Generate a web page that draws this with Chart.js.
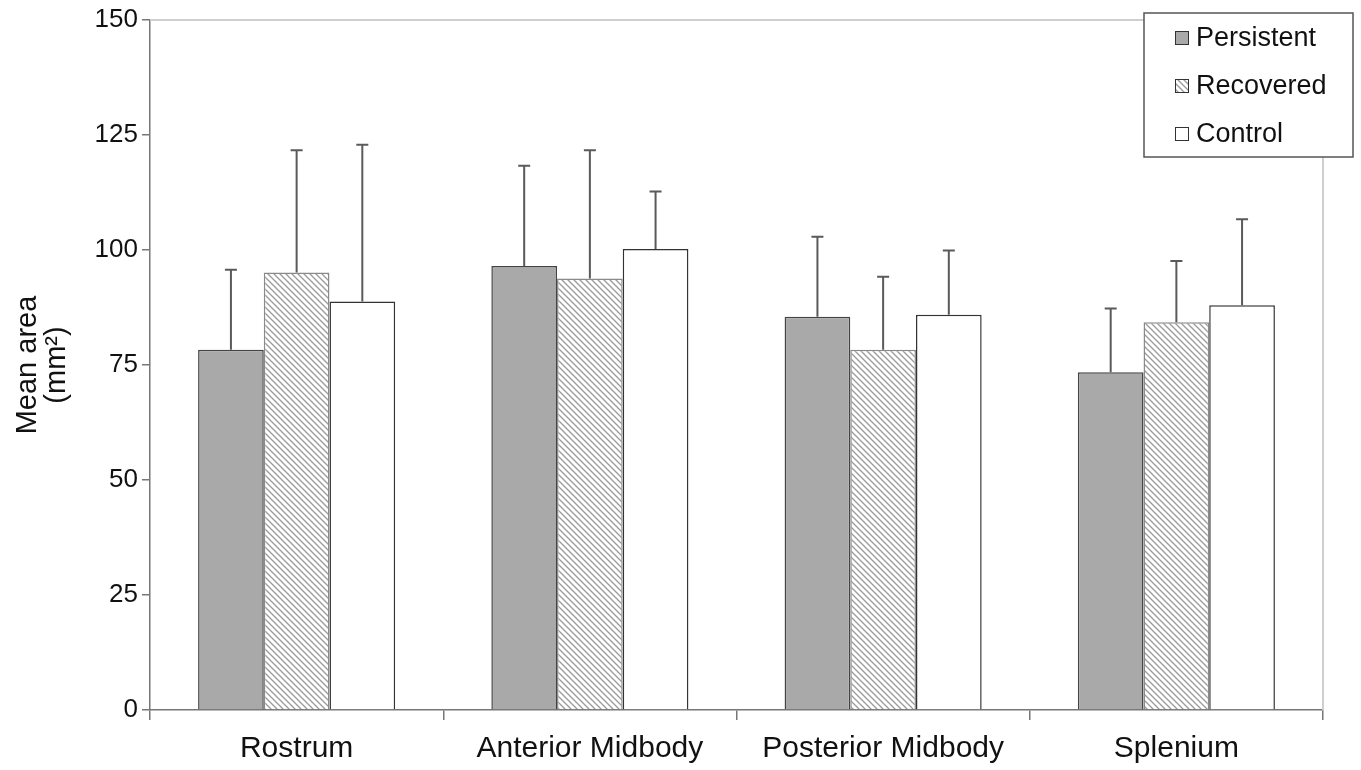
<!DOCTYPE html>
<html>
<head>
<meta charset="utf-8">
<script src="https://cdn.jsdelivr.net/npm/chart.js@4.4.1/dist/chart.umd.min.js"></script>
<style>
  html, body { margin: 0; padding: 0; background: #fff; }
  #wrap { width: 1361px; height: 770px; position: relative; }
</style>
</head>
<body>
<div id="wrap"><canvas id="chart"></canvas></div>
<script>
const regions = ['Rostrum', 'Anterior Midbody', 'Posterior Midbody', 'Splenium'];
const seriesNames = ['Persistent', 'Recovered', 'Control'];
const persistentMean = [78.3, 96.5, 85.5, 73.4];
const recoveredMean = [95.1, 93.8, 78.3, 84.3];
const controlMean = [88.8, 100.2, 85.9, 88.0];
const persistentSD = [17.4, 21.8, 17.4, 13.9];
const recoveredSD = [26.6, 27.9, 15.9, 13.3];
const controlSD = [34.1, 12.5, 14.0, 18.7];
const yTicks = [0, 25, 50, 75, 100, 125, 150];

const FONT = '"Liberation Sans", Arial, sans-serif';

function hatch() {
  const c = document.createElement('canvas');
  c.width = 6; c.height = 6;
  const g = c.getContext('2d');
  g.fillStyle = '#fff';
  g.fillRect(0, 0, 6, 6);
  g.strokeStyle = '#9a9a9a';
  g.lineWidth = 1.3;
  g.beginPath();
  g.moveTo(-1, -1); g.lineTo(7, 7);
  g.moveTo(-4, 2); g.lineTo(4, 10);
  g.moveTo(2, -4); g.lineTo(10, 4);
  g.stroke();
  return g.createPattern(c, 'repeat');
}
const hatchFill = hatch();

const fills = ['#a9a9a9', hatchFill, '#ffffff'];
const borders = ['#444', '#8a8a8a', '#333'];

// error bars (upper only), plot border, legend box
const extras = {
  id: 'extras',
  beforeDatasetsDraw(chart) {
    const { ctx, chartArea: a } = chart;
    ctx.save();
    ctx.strokeStyle = '#cfcfcf';
    ctx.lineWidth = 2;
    ctx.beginPath();
    ctx.moveTo(a.left, a.top);
    ctx.lineTo(a.right, a.top);
    ctx.lineTo(a.right, a.bottom);
    ctx.stroke();
    ctx.restore();
  },
  afterDatasetsDraw(chart) {
    const { ctx } = chart;
    const y = chart.scales.y;
    ctx.save();
    ctx.strokeStyle = '#5a5a5a';
    ctx.lineWidth = 2;
    chart.data.datasets.forEach((ds, i) => {
      const meta = chart.getDatasetMeta(i);
      meta.data.forEach((bar, j) => {
        const top = y.getPixelForValue(ds.data[j] + ds.sd[j]);
        ctx.beginPath();
        ctx.moveTo(bar.x, bar.y);
        ctx.lineTo(bar.x, top);
        ctx.moveTo(bar.x - 6, top);
        ctx.lineTo(bar.x + 6, top);
        ctx.stroke();
      });
    });
    ctx.restore();
  },
  afterDraw(chart) {
    const { ctx } = chart;
    const bx = 1144, by = 13, bw = 209, bh = 144;
    ctx.save();
    ctx.fillStyle = '#fff';
    ctx.fillRect(bx, by, bw, bh);
    ctx.strokeStyle = '#555';
    ctx.lineWidth = 1.5;
    ctx.strokeRect(bx, by, bw, bh);
    ctx.font = '27px ' + FONT;
    ctx.textBaseline = 'middle';
    chart.data.datasets.forEach((ds, i) => {
      const cy = 38 + i * 48;
      ctx.fillStyle = fills[i];
      ctx.fillRect(1175, cy - 7, 14, 14);
      ctx.strokeStyle = '#333';
      ctx.lineWidth = 1;
      ctx.strokeRect(1175.5, cy - 6.5, 13, 13);
      ctx.fillStyle = '#111';
      ctx.fillText(ds.label, 1196, cy + 1);
    });
    ctx.restore();
  }
};

const sds = [persistentSD, recoveredSD, controlSD];
const means = [persistentMean, recoveredMean, controlMean];

new Chart(document.getElementById('chart'), {
  type: 'bar',
  data: {
    labels: regions,
    datasets: seriesNames.map((name, i) => ({
      label: name,
      data: means[i],
      sd: sds[i],
      backgroundColor: fills[i],
      borderColor: borders[i],
      borderWidth: 1.5,
      borderSkipped: 'bottom',
      categoryPercentage: 0.672,
      barPercentage: 1.0
    }))
  },
  options: {
    responsive: true,
    maintainAspectRatio: false,
    animation: false,
    layout: { padding: { top: 20, right: 38, left: 0, bottom: 0 } },
    plugins: { legend: { display: false }, tooltip: { enabled: false } },
    scales: {
      x: {
        afterFit: (s) => { s.height = 60; },
        grid: { display: true, drawOnChartArea: false, drawTicks: true, tickLength: 10, color: '#777', lineWidth: 1.5, offset: true },
        border: { color: '#777', width: 1.5 },
        ticks: { color: '#111', font: { family: FONT, size: 30 }, padding: 11, maxRotation: 0 }
      },
      y: {
        min: 0,
        max: 150,
        afterFit: (s) => { s.width = 150; },
        afterBuildTicks: (s) => { s.ticks = yTicks.map((v) => ({ value: v })); },
        grid: { display: true, drawOnChartArea: false, drawTicks: true, tickLength: 8, color: '#777', lineWidth: 1.5 },
        border: { color: '#777', width: 1.5 },
        ticks: { color: '#111', font: { family: FONT, size: 26 }, padding: 4 },
        title: {
          display: true,
          text: ['Mean area', '(mm²)'],
          color: '#111',
          font: { family: FONT, size: 29, lineHeight: 1.0 },
          padding: { top: 13, bottom: 0 }
        }
      }
    }
  },
  plugins: [extras]
});
</script>
</body>
</html>
